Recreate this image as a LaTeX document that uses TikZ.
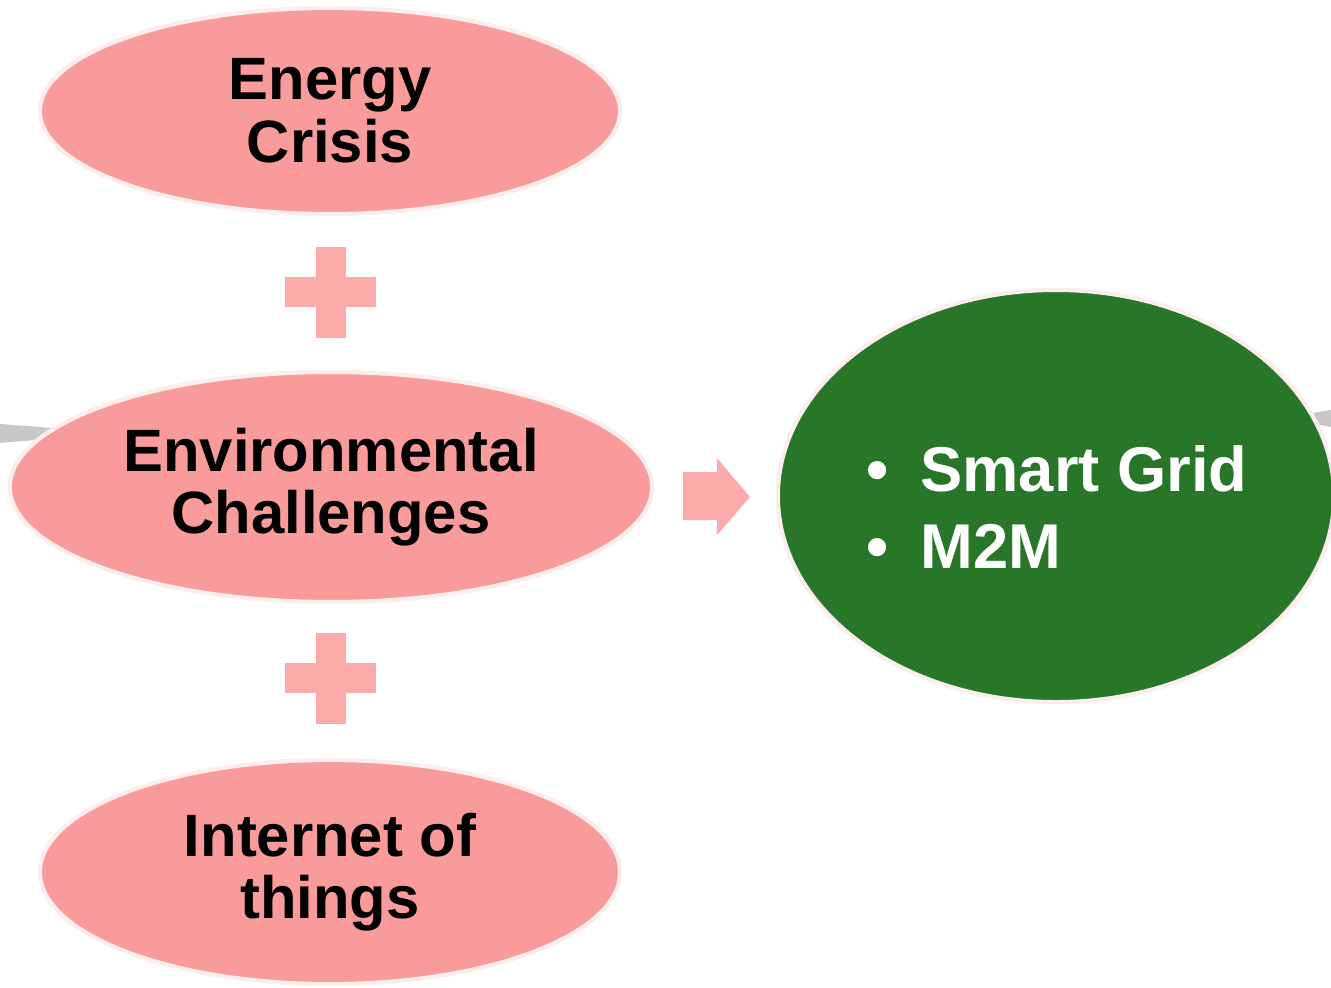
\documentclass[tikz,border=0pt]{standalone}
\usepackage{fontspec}
\setmainfont{Liberation Sans}
\usetikzlibrary{shapes.geometric}

\definecolor{ovalpink}{RGB}{250,155,155}
\definecolor{pluspink}{RGB}{252,170,170}
\definecolor{rimpink}{RGB}{253,238,238}
\definecolor{ovalgreen}{RGB}{40,118,40}
\definecolor{backgray}{RGB}{200,200,200}

\begin{document}
\begin{tikzpicture}[x=0.01cm,y=-0.01cm,
    pinkoval/.style={ellipse, fill=ovalpink, draw=rimpink, line width=1.2pt,
        align=center, font=\fontsize{17}{17.8}\selectfont\bfseries, inner sep=0pt},
    greenoval/.style={ellipse, fill=ovalgreen, draw=rimpink, line width=1.2pt,
        inner sep=0pt},
    bullets/.style={align=left, text=white, font=\fontsize{18}{22}\selectfont\bfseries,
        inner sep=0pt},
    plussign/.style={fill=pluspink}]
    \useasboundingbox (0,0) rectangle (1331,987);

    % Grey band behind the ovals
    \fill[backgray] (0,424) -- (120,433) -- (0,443) -- cycle;
    \fill[backgray] (1331,410) -- (1280,418) -- (1331,427) -- cycle;

    % Ovals
    \node[pinkoval, minimum width=5.8cm, minimum height=2.06cm] (energy) at (330,111)
        {Energy\\Crisis};
    \node[pinkoval, minimum width=6.42cm, minimum height=2.3cm] (environment) at (331,487)
        {Environmental\\Challenges};
    \node[pinkoval, minimum width=5.8cm, minimum height=2.24cm] (iot) at (330,872)
        {Internet of\\things};
    \node[greenoval, minimum width=5.56cm, minimum height=4.12cm] (result) at (1056,496) {};
    \node[bullets] (resulttext) at (1057,507)
        {\textbullet\hspace{0.5em}Smart Grid\\\textbullet\hspace{0.5em}M2M};

    % Plus signs
    \foreach \y in {292,678}{
        \fill[plussign] (316,\y-45) rectangle (346,\y+46);
        \fill[plussign] (285,\y-15) rectangle (376,\y+15);
    }

    % Arrow to the result
    \fill[pluspink] (683,472) -- (717,472) -- (717,458) -- (750,497)
        -- (717,535) -- (717,520) -- (683,520) -- cycle;
\end{tikzpicture}
\end{document}
